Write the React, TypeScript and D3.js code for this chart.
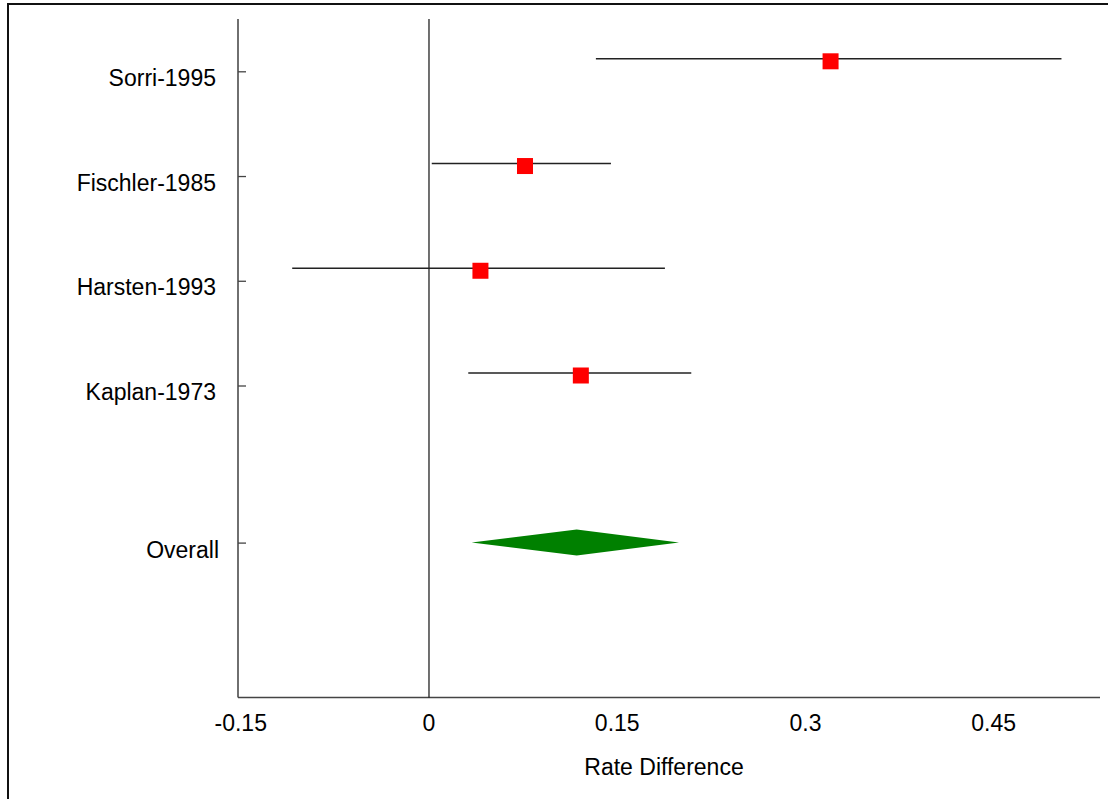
import React from "react";
import * as d3 from "d3";

const studies = ["Sorri-1995", "Fischler-1985", "Harsten-1993", "Kaplan-1973"];
const estimates = [0.320, 0.0765, 0.041, 0.121];
const lowers = [0.133, 0.0022, -0.109, 0.0313];
const uppers = [0.504, 0.145, 0.188, 0.209];
const overallLabel = "Overall";
const overallEstimate = 0.1177;
const overallLower = 0.034;
const overallUpper = 0.1992;
const xTicks = [-0.15, 0, 0.15, 0.3, 0.45];
const xTickLabels = ["-0.15", "0", "0.15", "0.3", "0.45"];
const xTitle = "Rate Difference";

const W = 1108;
const H = 799;
const FONT = "'Liberation Sans', Arial, sans-serif";

export default function App() {
  const axisX = 238;
  const axisTop = 19;
  const axisBottom = 697.5;
  const axisRight = 1100;
  const x = d3.scaleLinear().domain([-0.15, 0.5347]).range([240.75, 1100]);
  const y = d3.scaleLinear().domain([0, 3]).range([71.8, 386]);
  const overallRow = 4.5;
  const sq = 16;
  const fs = 23;

  const diamond = (est: number, lo: number, hi: number, cy: number) => {
    const h = 13;
    const pts: [number, number][] = [
      [x(lo), cy],
      [x(est), cy - h],
      [x(hi), cy],
      [x(est), cy + h],
    ];
    return d3.line()(pts.concat([pts[0]])) as string;
  };

  return (
    <svg
      width={W}
      height={H}
      style={{ position: "absolute", left: 0, top: 0, background: "#fff" }}
      fontFamily={FONT}
    >
      <rect x={0} y={0} width={W} height={H} fill="#fff" />
      <rect x={8} y={4} width={W + 50} height={H + 50} fill="none" stroke="#111" strokeWidth={2} />

      {/* y axis */}
      <line x1={axisX} x2={axisX} y1={axisTop} y2={axisBottom} stroke="#222" strokeWidth={1.3} />
      {/* x axis */}
      <line x1={axisX} x2={axisRight} y1={axisBottom} y2={axisBottom} stroke="#444" strokeWidth={1.5} />
      {/* zero line */}
      <line x1={x(0)} x2={x(0)} y1={axisTop} y2={axisBottom} stroke="#111" strokeWidth={1.2} />

      {/* y ticks and labels */}
      {studies.map((s, i) => (
        <g key={s}>
          <line x1={axisX} x2={axisX + 8} y1={y(i)} y2={y(i)} stroke="#444" strokeWidth={1.3} />
          <text x={216} y={y(i) + 14} textAnchor="end" fontSize={fs} fill="#000">
            {s}
          </text>
        </g>
      ))}
      <line x1={axisX} x2={axisX + 8} y1={y(overallRow)} y2={y(overallRow)} stroke="#444" strokeWidth={1.3} />
      <text x={219} y={y(overallRow) + 14.5} textAnchor="end" fontSize={fs} fill="#000">
        {overallLabel}
      </text>

      {/* x tick labels */}
      {xTicks.map((t, i) => (
        <text key={t} x={x(t)} y={731} textAnchor="middle" fontSize={fs} fill="#000">
          {xTickLabels[i]}
        </text>
      ))}
      <text x={664} y={775} textAnchor="middle" fontSize={fs} fill="#000">
        {xTitle}
      </text>

      {/* study CIs and squares */}
      {studies.map((s, i) => (
        <g key={"m" + s}>
          <line
            x1={x(lowers[i])}
            x2={x(uppers[i])}
            y1={y(i) - 13}
            y2={y(i) - 13}
            stroke="#222"
            strokeWidth={1.4}
          />
          <rect
            x={x(estimates[i]) - sq / 2}
            y={y(i) - 10.5 - sq / 2}
            width={sq}
            height={sq}
            fill="#ff0000"
          />
        </g>
      ))}

      {/* overall diamond */}
      <path d={diamond(overallEstimate, overallLower, overallUpper, y(overallRow) - 0.5)} fill="#008000" />
    </svg>
  );
}
